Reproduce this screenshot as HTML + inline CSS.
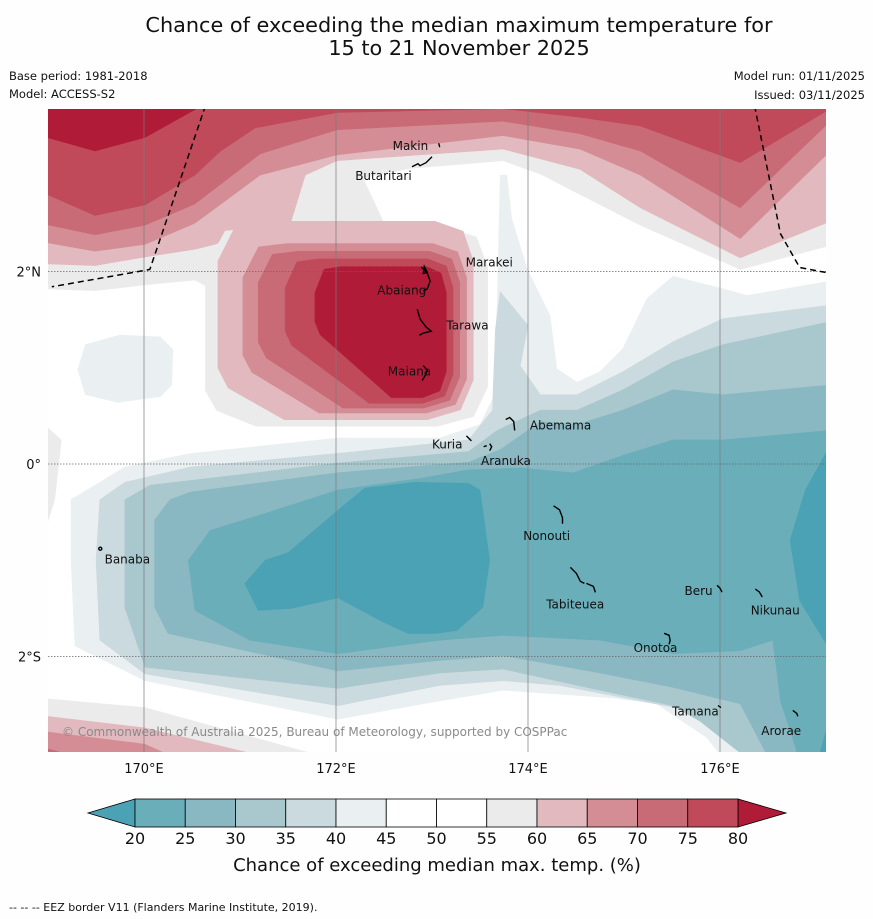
<!DOCTYPE html>
<html><head><meta charset="utf-8"><title>Chance of exceeding median max temperature</title>
<style>
html,body{margin:0;padding:0;background:#fff;}
svg{display:block;font-family:"DejaVu Sans","Liberation Sans",sans-serif;}
</style></head>
<body>
<svg id="chart" width="873" height="919" viewBox="0 0 873 919" xmlns="http://www.w3.org/2000/svg">
<rect x="0" y="0" width="873" height="919" fill="#fefefe"/>
<text x="459" y="32" text-anchor="middle" font-size="20.8" fill="#111">Chance of exceeding the median maximum temperature for</text>
<text x="459" y="55" text-anchor="middle" font-size="20.8" fill="#111">15 to 21 November 2025</text>
<text x="9" y="80" font-size="11.5" fill="#111">Base period: 1981-2018</text>
<text x="9" y="98" font-size="11.5" fill="#111">Model: ACCESS-S2</text>
<text x="865" y="80" text-anchor="end" font-size="11.5" fill="#111">Model run: 01/11/2025</text>
<text x="865" y="99" text-anchor="end" font-size="11.5" fill="#111">Issued: 03/11/2025</text>
<defs><clipPath id="mapclip"><rect x="48" y="109" width="778" height="643"/></clipPath></defs>
<g id="map" clip-path="url(#mapclip)">
<rect x="48" y="109" width="778" height="643" fill="#ffffff"/>
<g id="fills"></g>
<g id="grid"></g>
<g id="eez"></g>
<g id="islands"></g>
</g>
<text x="62" y="736" font-size="12" fill="#8a8a8a">© Commonwealth of Australia 2025, Bureau of Meteorology, supported by COSPPac</text>
<g id="axes"></g>
<g id="colorbar"></g>
<text x="437" y="871" text-anchor="middle" font-size="18" fill="#111">Chance of exceeding median max. temp. (%)</text>
<text x="9" y="911" font-size="11" fill="#111">--  --  -- EEZ border V11 (Flanders Marine Institute, 2019).</text>
</svg>
<script>
// ---- colour scale data ----
const levels = [20,25,30,35,40,45,50,55,60,65,70,75,80];
const bandColors = ["#6aaeba","#89b8c3","#a9c8cd","#cbdadf","#eaf0f2","#ffffff","#ffffff","#ecebec","#e1b9be","#d48d95","#c86b76","#c04a5a"];
const underColor = "#4aa2b4";
const overColor = "#b01c37";
// ---- axis data ----
const lonTicks = [170,172,174,176];
const lonTickLabels = ["170°E","172°E","174°E","176°E"];
const latTicks = [2,0,-2];
const latTickLabels = ["2°N","0°","2°S"];
// ---- contour regions (lon, lat), painted low->high ----
const topBand55 = [[168.92,3.79],[168.92,1.82],[169.49,1.80],[170.01,1.86],[170.53,1.91],[170.90,1.71],[171.94,1.71],[172.52,2.46],[172.28,2.97],[172.77,3.07],[173.74,3.15],[174.13,3.01],[174.54,2.80],[175.17,2.48],[175.51,2.33],[176.21,2.02],[177.15,2.27],[177.15,3.79]];
const topBand60 = [[168.92,3.79],[168.92,2.08],[169.49,2.06],[170.01,2.15],[170.53,2.23],[170.74,2.28],[171.21,2.46],[171.52,2.48],[171.68,3.00],[172.01,3.15],[173.74,3.27],[174.54,3.06],[175.17,2.66],[176.21,2.14],[177.15,2.52],[177.15,3.79]];
const topBand65 = [[168.92,3.79],[168.92,2.31],[169.49,2.21],[170.01,2.28],[170.53,2.50],[171.21,3.00],[172.01,3.21],[173.74,3.41],[174.54,3.27],[175.17,3.00],[176.21,2.34],[177.15,3.25],[177.15,3.79]];
const topBand70 = [[168.92,3.79],[168.92,2.50],[169.49,2.38],[170.01,2.48],[170.53,2.70],[171.21,3.22],[172.01,3.47],[173.74,3.56],[174.54,3.43],[175.17,3.25],[176.21,2.66],[177.15,3.56],[177.15,3.79]];
const topBand75 = [[168.92,3.79],[168.92,2.83],[169.49,2.58],[170.01,2.69],[170.53,3.00],[170.80,3.25],[171.16,3.49],[172.02,3.65],[173.74,3.69],[174.54,3.60],[175.17,3.51],[176.21,3.13],[177.15,3.69],[177.15,3.79]];
const topBand80 = [[168.92,3.79],[168.92,3.41],[169.49,3.25],[170.01,3.39],[170.64,3.74],[170.64,3.79]];
// warm blob rings: [lonW, lonE, latN, latS]
const blobLevels = [55,60,65,70,75,80];
const blobRings = [[170.64,173.58,2.46,0.39],[170.77,173.43,2.52,0.46],[171.03,173.36,2.29,0.53],[171.19,173.29,2.21,0.58],[171.47,173.22,2.13,0.63],[171.78,173.15,2.05,0.69]];
const cool45 = [[173.71,3.00],[173.78,3.00],[173.83,2.55],[173.99,2.03],[174.23,1.54],[174.30,0.99],[174.51,0.85],[174.75,0.96],[174.99,1.20],[175.24,1.72],[175.51,1.95],[176.03,1.82],[176.28,1.75],[177.15,1.90],[177.15,-3.08],[176.05,-3.08],[175.86,-2.84],[175.34,-2.49],[174.89,-2.43],[173.74,-2.35],[173.08,-2.46],[172.02,-2.65],[170.01,-2.25],[169.28,-1.89],[169.24,-1.00],[169.24,-0.37],[169.49,-0.22],[169.80,-0.03],[170.49,0.11],[172.02,0.27],[173.08,0.27],[173.50,0.41],[173.63,0.67],[173.68,1.71]];
const cool40 = [[173.71,1.79],[174.00,1.44],[173.92,1.02],[174.13,0.72],[174.51,0.72],[174.99,0.96],[175.51,1.27],[176.03,1.51],[177.15,1.65],[177.15,-3.08],[176.42,-3.08],[176.21,-2.88],[175.79,-2.58],[175.17,-2.46],[174.33,-2.30],[173.74,-2.25],[173.08,-2.30],[172.02,-2.51],[170.01,-2.18],[169.54,-1.83],[169.50,-1.00],[169.54,-0.37],[169.80,-0.19],[170.49,-0.03],[172.02,0.11],[173.38,0.25],[173.63,0.56],[173.66,1.40]];
const cool35 = [[169.80,-0.37],[170.06,-0.22],[170.49,-0.17],[172.02,0.01],[173.38,0.13],[173.68,0.35],[174.13,0.56],[174.51,0.56],[174.99,0.77],[175.51,1.06],[176.03,1.24],[177.15,1.48],[177.15,-3.08],[176.26,-3.08],[176.21,-3.00],[175.79,-2.67],[175.51,-2.51],[174.75,-2.35],[173.74,-2.13],[173.08,-2.17],[172.02,-2.33],[170.01,-2.11],[169.80,-1.49]];
const cool30 = [[170.11,-0.58],[170.27,-0.37],[170.49,-0.29],[172.02,-0.09],[173.38,0.02],[173.71,0.15],[174.13,0.44],[174.51,0.41],[174.99,0.56],[175.51,0.77],[176.03,0.72],[177.15,0.82],[177.15,-3.08],[176.52,-3.08],[176.21,-2.49],[175.51,-2.32],[174.75,-2.17],[173.74,-1.99],[173.08,-2.04],[172.02,-2.15],[170.25,-1.76],[170.11,-1.49]];
const cool25 = [[170.46,-1.00],[170.69,-0.69],[171.21,-0.53],[172.02,-0.27],[172.88,-0.15],[173.38,-0.06],[173.92,-0.04],[174.47,-0.09],[174.99,0.09],[175.51,0.25],[176.03,0.25],[177.15,0.35],[177.15,-3.08],[176.83,-3.08],[176.63,-2.46],[176.55,-1.83],[176.21,-1.94],[175.51,-1.97],[174.75,-1.83],[173.74,-1.78],[173.08,-1.83],[172.02,-1.97],[171.10,-1.83],[170.53,-1.52]];
const cool20West = [[171.05,-1.24],[171.26,-1.00],[171.50,-0.92],[172.02,-0.48],[172.30,-0.25],[172.82,-0.19],[173.38,-0.20],[173.50,-0.27],[173.60,-1.00],[173.53,-1.49],[173.26,-1.73],[173.03,-1.76],[172.75,-1.76],[172.47,-1.63],[172.02,-1.39],[171.53,-1.50],[171.19,-1.52]];
const cool20East = [[177.15,0.20],[176.89,-0.27],[176.73,-0.79],[176.83,-1.42],[177.15,-1.94]];
const cool20Corner = [[177.15,-2.60],[177.02,-3.08],[177.15,-3.08]];
const paleWest = [[169.39,1.24],[169.75,1.34],[170.17,1.32],[170.30,1.19],[170.29,0.82],[170.17,0.70],[169.73,0.64],[169.39,0.72],[169.31,0.98]];
const greyWestEdge = [[168.9,0.46],[169.14,0.25],[169.07,-0.37],[168.9,-0.90]];
const bottom55 = [[168.9,-2.43],[170.01,-2.53],[172.02,-3.08],[168.9,-3.08]];
const bottom60 = [[168.9,-2.61],[170.01,-2.74],[171.43,-3.08],[168.9,-3.08]];
const bottom65 = [[168.9,-2.77],[170.01,-2.91],[170.39,-3.08],[168.9,-3.08]];
const bottom70 = [[168.9,-2.93],[169.44,-3.08],[168.9,-3.08]];
// ---- EEZ border ----
const eezWest = [[170.64,3.72],[170.06,2.02],[169.04,1.84]];
const eezEast = [[176.36,3.72],[176.63,2.39],[176.83,2.04],[177.10,1.99]];
// ---- islands ----
const islandNames = ["Makin","Butaritari","Marakei","Abaiang","Tarawa","Maiana","Abemama","Kuria","Aranuka","Nonouti","Banaba","Beru","Tabiteuea","Nikunau","Onotoa","Tamana","Arorae"];
const labelLon = [172.59,172.20,173.35,172.43,173.15,172.54,174.02,173.00,173.51,173.95,169.59,175.63,174.19,176.32,175.10,175.50,176.43];
const labelLat = [3.30,2.99,2.09,1.80,1.44,0.96,0.40,0.20,0.03,-0.75,-0.99,-1.32,-1.46,-1.52,-1.91,-2.57,-2.77];
const islandLon = [173.07,173.00,172.93,172.95,172.95,172.95,173.83,173.39,173.58,174.37,169.55,176.00,174.65,176.42,175.48,176.00,176.81];
const islandLat = [3.30,3.15,2.02,1.90,1.40,0.95,0.40,0.25,0.18,-0.60,-0.88,-1.30,-1.25,-1.35,-1.82,-2.53,-2.60];
const islandShapes = ["M0,-3 l1,4","M-20,6 l6,-3 l2,2 l6,-3 l6,-6","M-2,4 l1,-7 l3,6 z","M-6,-14 l6,6 l3,8 l-3,8 l-4,2","M-10,-20 l3,10 l6,8 l5,4 l-8,2 l-4,2","M-4,-7 l4,5 l-2,5 l-3,5","M-6,-6 l4,-2 l4,4 l1,9","M-3,-4 l3,3 l2,2","M-4,0 l3,-1 M2,-3 l2,3 l-2,4","M-10,-16 l6,4 l3,8 l0,6","M-2,0 a1.5,1.5 0 1,0 3,0 a1.5,1.5 0 1,0 -3,0","M-3,-4 l3,3 l2,4","M-20,-17 l6,6 l4,8 l4,2 M-4,-1 l7,3 l2,6","M-5,-5 l4,3 l3,5","M-6,-6 l5,2 l1,5 l-1,4","M-2,-2 l3,2","M-5,-4 l4,3 l1,3"];

const NS = "http://www.w3.org/2000/svg";
function X(lon){ return 144 + (lon - 170) * 96; }
function Y(lat){ return 464 - lat * 96.3; }
function pathFrom(pts){ return "M" + pts.map(p => X(p[0]).toFixed(1) + "," + Y(p[1]).toFixed(1)).join(" L") + " Z"; }
function colorFor(level){
  const i = levels.indexOf(level);
  return i < 0 ? (level < levels[0] ? underColor : overColor) : bandColors[i];
}
const fills = document.getElementById("fills");
function addRegion(pts, color, name){
  const p = document.createElementNS(NS, "path");
  p.setAttribute("d", pathFrom(pts));
  p.setAttribute("fill", color);
  p.setAttribute("stroke", color);
  p.setAttribute("stroke-width", "0.5");
  
  
  fills.appendChild(p);
}
function ringPoints(r, k){
  const l = r[0], e = r[1], n = r[2], s = r[3];
  const w = e - l, h = n - s;
  const leftEnd = s + (0.12 + 0.4*k) * h;
  const botStart = l + (0.18 + 0.4*k) * w;
  return [[l + 0.07*w, n - 0.02*h],[l + 0.2*w, n],[e - 0.15*w, n],[e - 0.04*w, n - 0.05*h],[e, n - 0.2*h],[e, s + 0.2*h],[e - 0.05*w, s + 0.05*h],[e - 0.18*w, s],[botStart, s],[l + 0.04*w, leftEnd - 0.04*h],[l, leftEnd + 0.06*h],[l, n - 0.2*h]];
}
addRegion(topBand55, colorFor(55), "contour-55-60-north");
addRegion(topBand60, colorFor(60), "contour-60-65-north");
addRegion(topBand65, colorFor(65), "contour-65-70-north");
addRegion(topBand70, colorFor(70), "contour-70-75-north");
addRegion(topBand75, colorFor(75), "contour-75-80-north");
addRegion(topBand80, overColor, "contour-over-80-north");
blobRings.forEach((r, i) => {
  const lv = blobLevels[i];
  addRegion(ringPoints(r, i / (blobRings.length - 1)), lv >= 80 ? overColor : colorFor(lv), "contour-tarawa-" + lv);
});
addRegion(cool45, colorFor(40), "contour-40-45");
addRegion(cool40, colorFor(35), "contour-35-40");
addRegion(cool35, colorFor(30), "contour-30-35");
addRegion(cool30, colorFor(25), "contour-25-30");
addRegion(cool25, colorFor(20), "contour-20-25");
addRegion(cool20West, underColor, "contour-under-20-west");
addRegion(cool20East, underColor, "contour-under-20-east");
addRegion(cool20Corner, underColor, "contour-under-20-corner");
addRegion(paleWest, colorFor(40), "contour-40-45-west");
addRegion(greyWestEdge, colorFor(55), "contour-55-60-west-edge");
addRegion(bottom55, colorFor(55), "contour-55-60-south");
addRegion(bottom60, colorFor(60), "contour-60-65-south");
addRegion(bottom65, colorFor(65), "contour-65-70-south");
addRegion(bottom70, colorFor(70), "contour-70-75-south");

const grid = document.getElementById("grid");
lonTicks.forEach(lon => {
  const l = document.createElementNS(NS, "line");
  l.setAttribute("x1", X(lon)); l.setAttribute("x2", X(lon));
  l.setAttribute("y1", 109); l.setAttribute("y2", 752);
  l.setAttribute("stroke", "#7a7a7a"); l.setAttribute("stroke-width", "0.7");
  
  
  grid.appendChild(l);
});
latTicks.forEach(lat => {
  const l = document.createElementNS(NS, "line");
  l.setAttribute("x1", 48); l.setAttribute("x2", 826);
  l.setAttribute("y1", Y(lat)); l.setAttribute("y2", Y(lat));
  l.setAttribute("stroke", "#666"); l.setAttribute("stroke-width", "0.8");
  l.setAttribute("stroke-dasharray", "1.5,1.5");
  
  
  grid.appendChild(l);
});
const eez = document.getElementById("eez");
[eezWest, eezEast].forEach((pts, i) => {
  const p = document.createElementNS(NS, "path");
  p.setAttribute("d", "M" + pts.map(q => X(q[0]).toFixed(1) + "," + Y(q[1]).toFixed(1)).join(" L"));
  p.setAttribute("fill", "none"); p.setAttribute("stroke", "#000");
  p.setAttribute("stroke-width", "1.5"); p.setAttribute("stroke-dasharray", "6,4");
  
  
  eez.appendChild(p);
});
const isl = document.getElementById("islands");
islandNames.forEach((nm, i) => {
  const g = document.createElementNS(NS, "g");
  
  
  const p = document.createElementNS(NS, "path");
  p.setAttribute("d", islandShapes[i]);
  p.setAttribute("transform", "translate(" + X(islandLon[i]).toFixed(1) + "," + Y(islandLat[i]).toFixed(1) + ")");
  p.setAttribute("fill", "none"); p.setAttribute("stroke", "#000"); p.setAttribute("stroke-width", "1.4");
  
  
  g.appendChild(p);
  const t = document.createElementNS(NS, "text");
  t.setAttribute("x", X(labelLon[i]).toFixed(1));
  t.setAttribute("y", (Y(labelLat[i]) + 4).toFixed(1));
  t.setAttribute("font-size", "12"); t.setAttribute("fill", "#111");
  t.textContent = nm;
  
  
  g.appendChild(t);
  isl.appendChild(g);
});
const axes = document.getElementById("axes");
lonTicks.forEach((lon, i) => {
  const t = document.createElementNS(NS, "text");
  t.setAttribute("x", X(lon)); t.setAttribute("y", 773);
  t.setAttribute("text-anchor", "middle"); t.setAttribute("font-size", "13"); t.setAttribute("fill", "#111");
  t.textContent = lonTickLabels[i];
  
  
  axes.appendChild(t);
});
latTicks.forEach((lat, i) => {
  const t = document.createElementNS(NS, "text");
  t.setAttribute("x", 41); t.setAttribute("y", Y(lat) + 5);
  t.setAttribute("text-anchor", "end"); t.setAttribute("font-size", "13"); t.setAttribute("fill", "#111");
  t.textContent = latTickLabels[i];
  
  
  axes.appendChild(t);
});
const cb = document.getElementById("colorbar");
const cbX0 = 135, cbX1 = 738, cbY = 799, cbH = 28;
function cbX(v){ return cbX0 + (v - levels[0]) / (levels[levels.length-1] - levels[0]) * (cbX1 - cbX0); }
const under = document.createElementNS(NS, "path");
under.setAttribute("d", "M" + cbX0 + "," + cbY + " L88," + (cbY + cbH/2) + " L" + cbX0 + "," + (cbY + cbH) + " Z");
under.setAttribute("fill", underColor); under.setAttribute("stroke", "#000"); under.setAttribute("stroke-width", "0.8");


cb.appendChild(under);
const over = document.createElementNS(NS, "path");
over.setAttribute("d", "M" + cbX1 + "," + cbY + " L786," + (cbY + cbH/2) + " L" + cbX1 + "," + (cbY + cbH) + " Z");
over.setAttribute("fill", overColor); over.setAttribute("stroke", "#000"); over.setAttribute("stroke-width", "0.8");


cb.appendChild(over);
bandColors.forEach((c, i) => {
  const r = document.createElementNS(NS, "rect");
  r.setAttribute("x", cbX(levels[i])); r.setAttribute("y", cbY);
  r.setAttribute("width", cbX(levels[i+1]) - cbX(levels[i])); r.setAttribute("height", cbH);
  r.setAttribute("fill", c); r.setAttribute("stroke", "#000"); r.setAttribute("stroke-width", "0.8");
  
  
  cb.appendChild(r);
});
levels.forEach(v => {
  const t = document.createElementNS(NS, "text");
  t.setAttribute("x", cbX(v)); t.setAttribute("y", 844);
  t.setAttribute("text-anchor", "middle"); t.setAttribute("font-size", "16"); t.setAttribute("fill", "#111");
  t.textContent = String(v);
  
  
  cb.appendChild(t);
});
</script>
</body></html>
